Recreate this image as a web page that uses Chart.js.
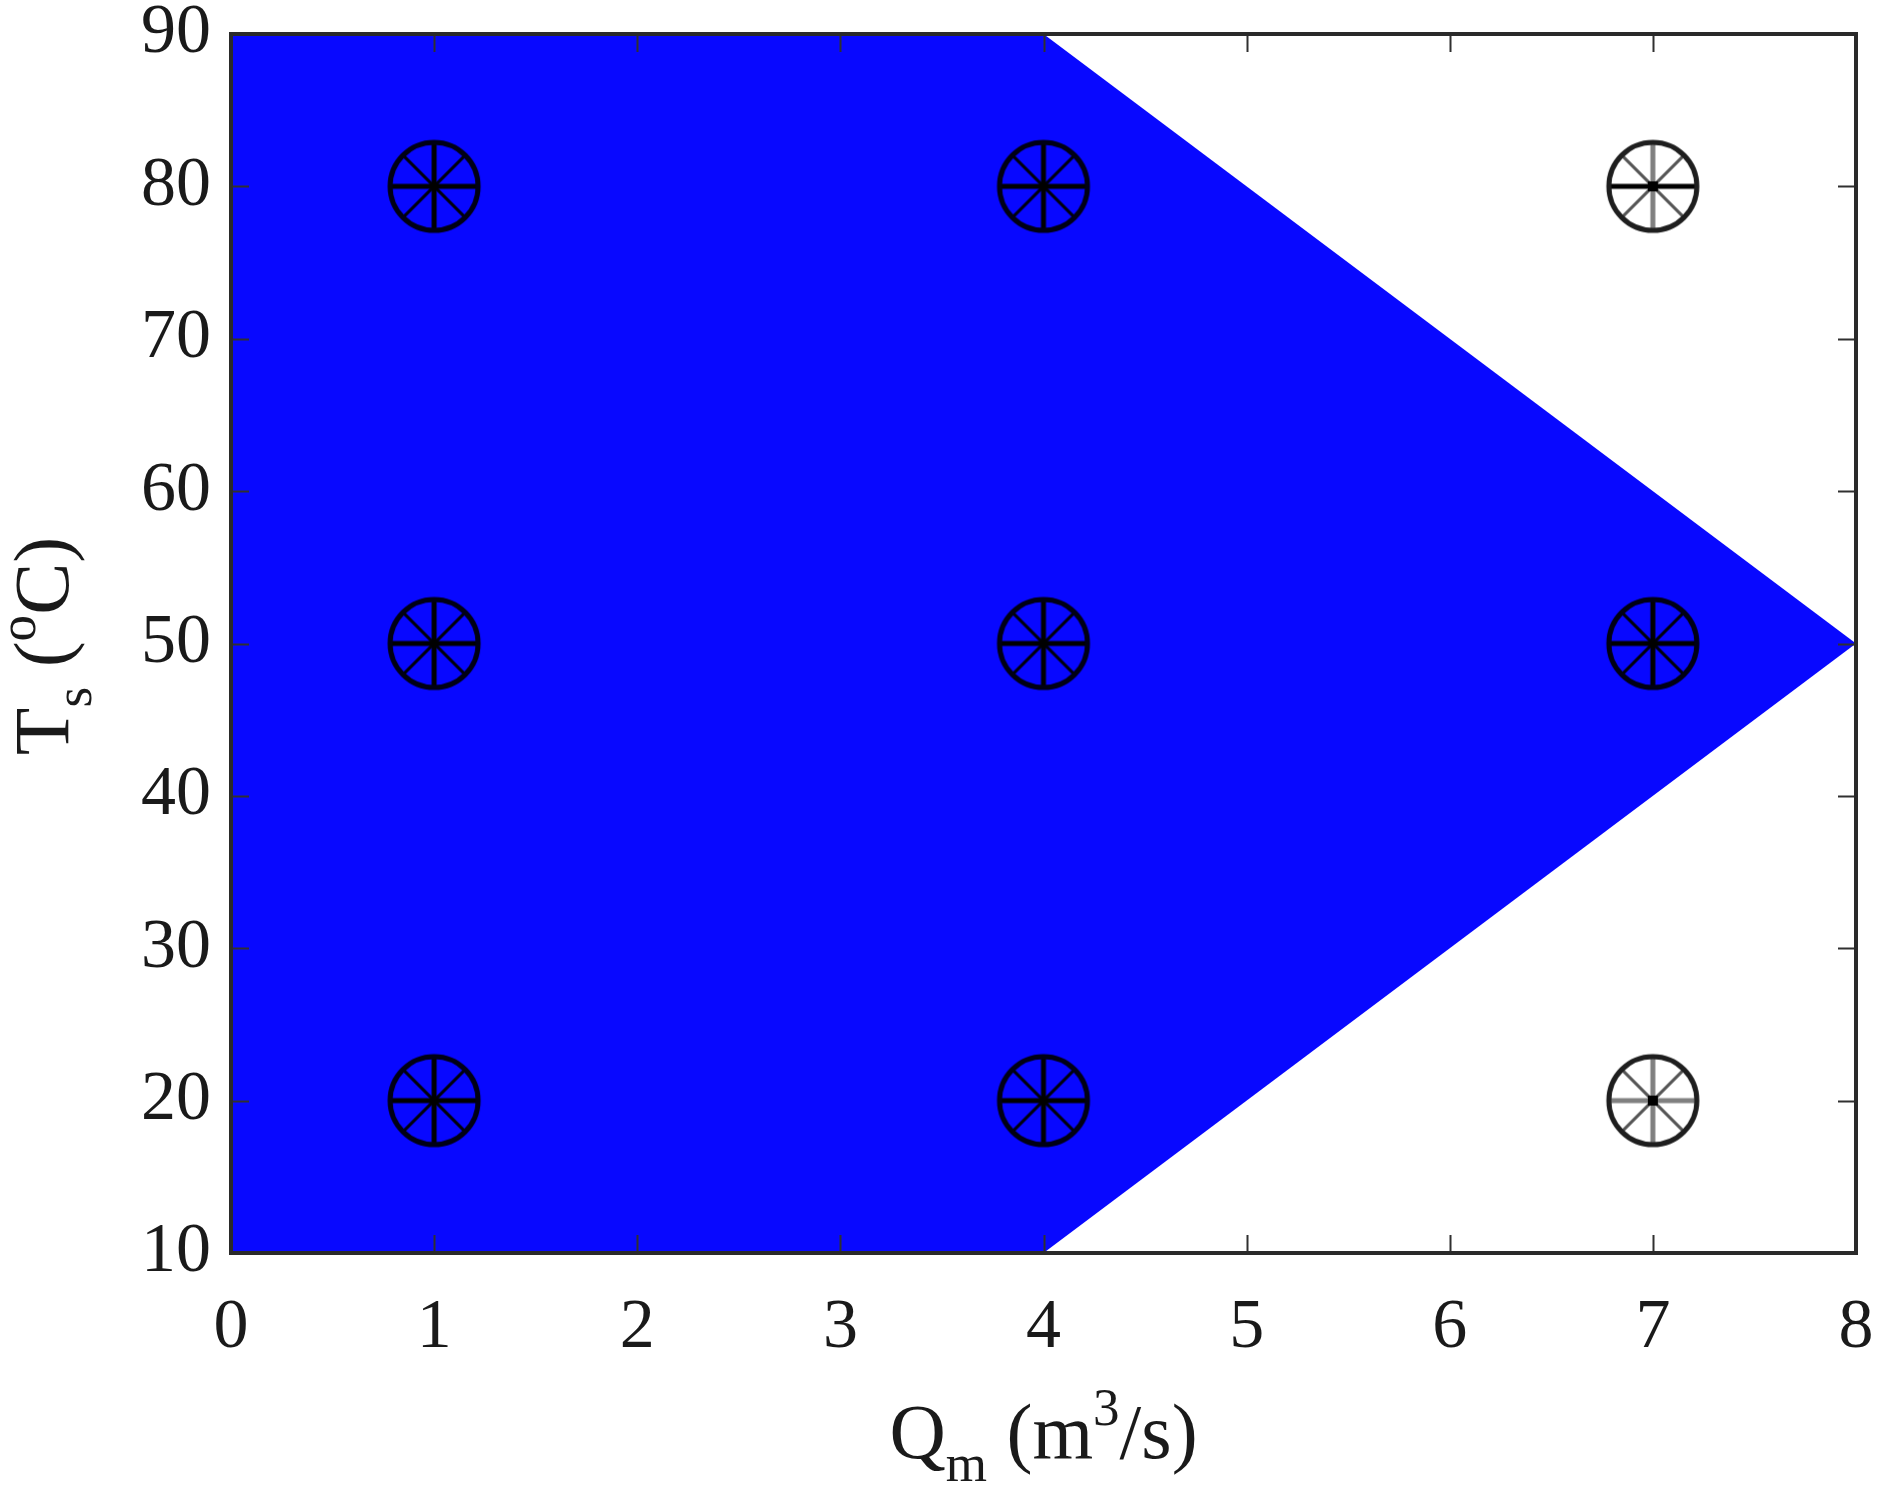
<!DOCTYPE html>
<html>
<head>
<meta charset="utf-8">
<script src="https://cdn.jsdelivr.net/npm/chart.js@4.4.1/dist/chart.umd.min.js"></script>
<style>
  html, body { margin: 0; padding: 0; background: #fff; }
  #wrap { width: 1884px; height: 1507px; }
</style>
</head>
<body>
<div id="wrap"><canvas id="chart" width="1884" height="1507"></canvas></div>
<script>
// tick values
const xTicks = [0, 1, 2, 3, 4, 5, 6, 7, 8];
const yTicks = [10, 20, 30, 40, 50, 60, 70, 80, 90];

// boundary of the feasible (blue) region
const upperQ = [0, 4, 8];
const upperT = [90, 90, 50];
const lowerQ = [0, 4, 8];
const lowerT = [10, 10, 50];

// test points
const insideQ = [1, 4, 1, 4, 7, 1, 4];
const insideT = [80, 80, 50, 50, 50, 20, 20];
const outsideQ = [7, 7];
const outsideT = [80, 20];

const FONT = '"Liberation Serif", "Times New Roman", serif';
const TEXT = '#1a1a1a';

// wheel-like marker: circle with 8 spokes
function makeMarker(ringCol, hCol, vCol, dCol, dot) {
  const r = 44, pad = 4, size = 2 * (r + pad);
  const cv = document.createElement('canvas');
  cv.width = size; cv.height = size;
  const c = cv.getContext('2d');
  c.translate(size / 2, size / 2);
  c.strokeStyle = dCol; c.lineWidth = 3;
  [45, 135].forEach(a => {
    const t = a * Math.PI / 180;
    c.beginPath();
    c.moveTo(-r * Math.cos(t), -r * Math.sin(t));
    c.lineTo(r * Math.cos(t), r * Math.sin(t));
    c.stroke();
  });
  c.strokeStyle = vCol; c.lineWidth = 5;
  c.beginPath(); c.moveTo(0, -r); c.lineTo(0, r); c.stroke();
  c.strokeStyle = hCol; c.lineWidth = 5;
  c.beginPath(); c.moveTo(-r, 0); c.lineTo(r, 0); c.stroke();
  c.strokeStyle = ringCol; c.lineWidth = 5;
  c.beginPath(); c.arc(0, 0, r, 0, Math.PI * 2); c.stroke();
  if (dot) {
    c.fillStyle = '#000';
    c.fillRect(-5, -5, 10, 10);
  }
  return cv;
}

const markDark = makeMarker('#000014', '#000000', '#000000', '#00000a', false);
const markTop = makeMarker('#1e1e1e', '#000000', '#808080', '#555555', true);
const markBot = makeMarker('#1e1e1e', '#808080', '#808080', '#555555', true);

const toPts = (xs, ys) => xs.map((x, i) => ({ x, y: ys[i] }));

// draw a label with sub/superscripts
function drawRich(ctx, parts, cx, baseY, size) {
  const widths = parts.map(p => {
    ctx.font = `${p.s ? size * 0.68 : size}px ${FONT}`;
    return ctx.measureText(p.t).width;
  });
  let x = cx - widths.reduce((a, b) => a + b, 0) / 2;
  parts.forEach((p, i) => {
    ctx.font = `${p.s ? size * 0.68 : size}px ${FONT}`;
    let dy = 0;
    if (p.s === 'sub') dy = size * 0.3;
    if (p.s === 'sup') dy = -size * 0.42;
    ctx.fillText(p.t, x, baseY + dy);
    x += widths[i];
  });
}

const frame = {
  id: 'frame',
  afterDatasetsDraw(chart) {
    const { ctx, chartArea: a, scales } = chart;
    ctx.save();
    ctx.strokeStyle = '#303030';
    ctx.lineWidth = 2;
    const tl = 18;
    ctx.beginPath();
    xTicks.forEach(v => {
      const px = Math.round(scales.x.getPixelForValue(v)) + 0.5;
      ctx.moveTo(px, a.bottom); ctx.lineTo(px, a.bottom - tl);
      ctx.moveTo(px, a.top); ctx.lineTo(px, a.top + tl);
    });
    yTicks.forEach(v => {
      const py = Math.round(scales.y.getPixelForValue(v)) + 0.5;
      ctx.moveTo(a.left, py); ctx.lineTo(a.left + tl, py);
      ctx.moveTo(a.right, py); ctx.lineTo(a.right - tl, py);
    });
    ctx.stroke();
    ctx.lineWidth = 4;
    ctx.strokeStyle = '#2a2a2a';
    ctx.strokeRect(a.left, a.top, a.right - a.left, a.bottom - a.top);
    ctx.restore();
  },
  afterDraw(chart) {
    const { ctx, chartArea: a } = chart;
    ctx.save();
    ctx.fillStyle = TEXT;
    ctx.textBaseline = 'alphabetic';
    ctx.textAlign = 'left';
    drawRich(ctx, [
      { t: 'Q' }, { t: 'm', s: 'sub' }, { t: ' (m' }, { t: '3', s: 'sup' }, { t: '/s)' }
    ], (a.left + a.right) / 2, 1458, 78);
    ctx.translate(68, 646);
    ctx.rotate(-Math.PI / 2);
    drawRich(ctx, [
      { t: 'T' }, { t: 's', s: 'sub' }, { t: ' (' }, { t: 'o', s: 'sup' }, { t: 'C)' }
    ], 0, 0, 78);
    ctx.restore();
  }
};

new Chart(document.getElementById('chart'), {
  type: 'scatter',
  data: {
    datasets: [
      {
        label: 'upper',
        type: 'line',
        data: toPts(upperQ, upperT),
        borderWidth: 0,
        borderColor: 'rgba(0,0,0,0)',
        backgroundColor: 'rgb(8,8,255)',
        pointRadius: 0,
        tension: 0,
        fill: '+1',
        order: 3
      },
      {
        label: 'lower',
        type: 'line',
        data: toPts(lowerQ, lowerT),
        borderWidth: 0,
        borderColor: 'rgba(0,0,0,0)',
        pointRadius: 0,
        tension: 0,
        fill: false,
        order: 3
      },
      {
        label: 'inside',
        data: toPts(insideQ, insideT),
        pointStyle: markDark,
        pointRadius: 46,
        order: 1
      },
      {
        label: 'outside',
        data: toPts(outsideQ, outsideT),
        pointStyle: [markTop, markBot],
        pointRadius: 46,
        order: 1
      }
    ]
  },
  options: {
    responsive: false,
    animation: false,
    layout: { autoPadding: false, padding: { left: 0, top: 34, right: 28, bottom: 0 } },
    plugins: {
      legend: { display: false },
      tooltip: { enabled: false },
      filler: { propagate: false }
    },
    scales: {
      x: {
        type: 'linear',
        min: 0,
        max: 8,
        afterBuildTicks: s => { s.ticks = xTicks.map(v => ({ value: v })); },
        afterFit: s => { s.height = 254; s.paddingLeft = 0; s.paddingRight = 0; },
        grid: { display: false, drawTicks: false },
        border: { display: false },
        ticks: {
          padding: 34,
          color: TEXT,
          maxRotation: 0,
          font: { family: FONT, size: 70 }
        }
      },
      y: {
        type: 'linear',
        min: 10,
        max: 90,
        afterBuildTicks: s => { s.ticks = yTicks.map(v => ({ value: v })); },
        afterFit: s => { s.width = 231; s.paddingTop = 0; s.paddingBottom = 0; },
        grid: { display: false, drawTicks: false },
        border: { display: false },
        ticks: {
          padding: 20,
          color: TEXT,
          font: { family: FONT, size: 70 }
        }
      }
    }
  },
  plugins: [frame]
});
</script>
</body>
</html>
